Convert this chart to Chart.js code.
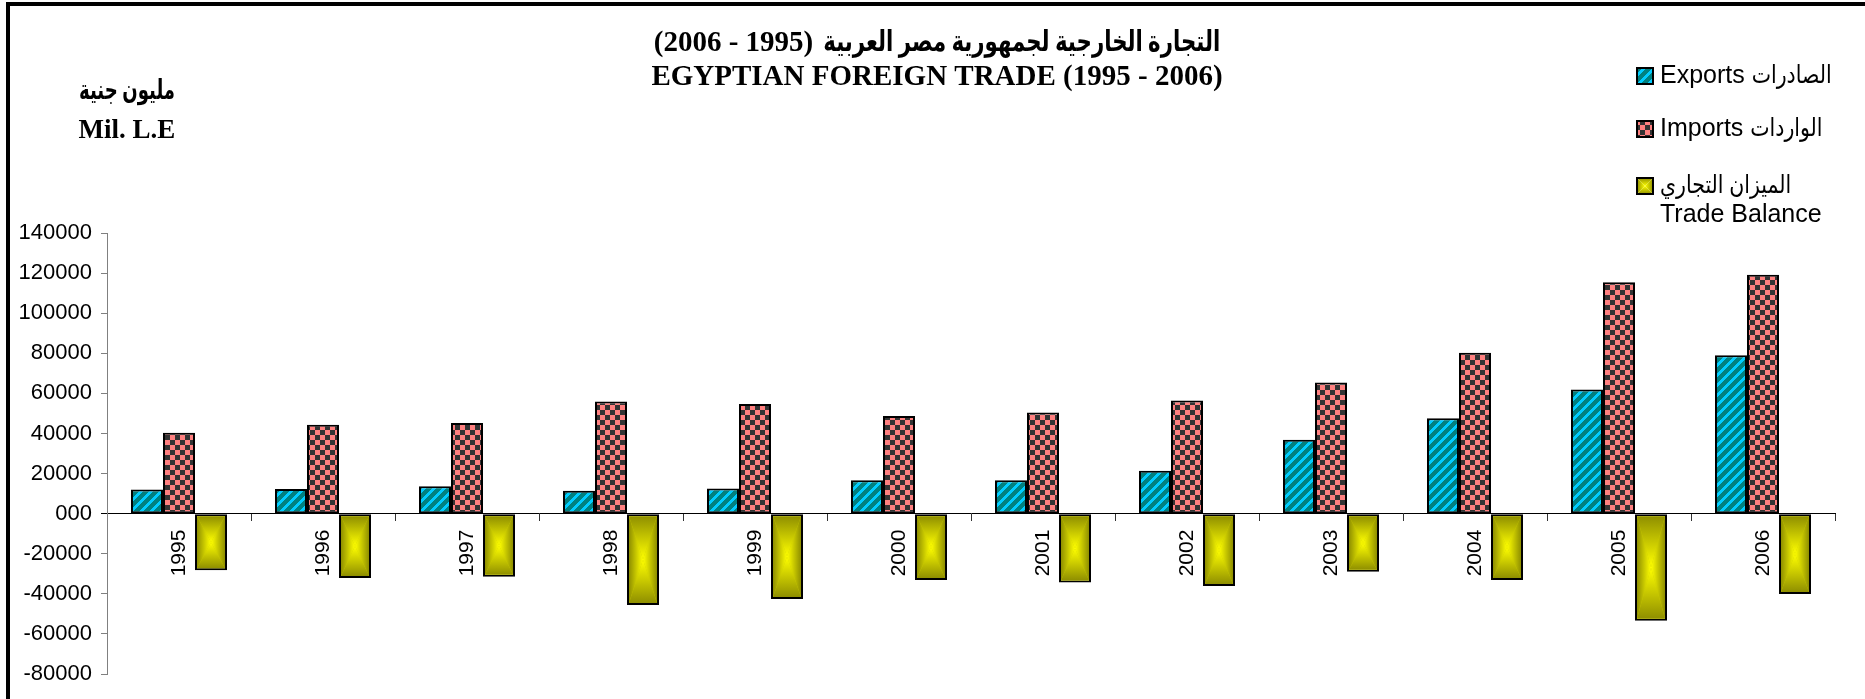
<!DOCTYPE html>
<html>
<head>
<meta charset="utf-8">
<title>Egyptian Foreign Trade</title>
<script src="https://cdn.jsdelivr.net/npm/chart.js@4.4.1/dist/chart.umd.min.js"></script>
<style>
    html, body { margin: 0; padding: 0; background: #fff; }
</style>
</head>
<body>
<canvas id="chart" width="1865" height="699"></canvas>
<script>
// values (million L.E)
var years = ['1995', '1996', '1997', '1998', '1999', '2000', '2001', '2002', '2003', '2004', '2005', '2006'];
var exportsData = [12000, 12300, 13700, 11400, 12600, 16700, 16700, 21400, 36900, 47600, 61900, 79000];
var importsData = [40300, 44400, 45200, 55900, 54700, 48700, 50500, 56500, 65400, 80200, 115400, 119200];
var balanceData = [-28300, -32100, -31500, -45600, -42600, -33100, -34300, -36100, -29000, -33100, -53400, -40100];

var yMin = -80000;
var yMax = 140000;
var yStep = 20000;

var titleAr = 'التجارة الخارجية لجمهورية مصر العربية';
var titleYears = '(1995 - 2006)';
var titleEn = 'EGYPTIAN FOREIGN TRADE (1995 - 2006)';
var unitLines = ['مليون جنية', 'Mil. L.E'];
var legendEn = ['Exports', 'Imports', ''];
var legendAr = ['الصادرات', 'الواردات', 'الميزان التجاري'];
var legendExtra = 'Trade Balance';

var canvas = document.getElementById('chart');
var ctx = canvas.getContext('2d');

function makeStripes() {
    var c = document.createElement('canvas');
    c.width = 10;
    c.height = 10;
    var g = c.getContext('2d');
    g.fillStyle = '#008080';
    g.fillRect(0, 0, 10, 10);
    g.fillStyle = '#00ccff';
    for (var py = 0; py < 10; py++) {
        for (var px = 0; px < 10; px++) {
            if ((px + py) % 10 < 4) {
                g.fillRect(px, py, 1, 1);
            }
        }
    }
    return ctx.createPattern(c, 'repeat');
}

function makeChecker() {
    var c = document.createElement('canvas');
    c.width = 10;
    c.height = 10;
    var g = c.getContext('2d');
    g.fillStyle = '#ff8080';
    g.fillRect(0, 0, 10, 10);
    g.fillStyle = '#333333';
    g.fillRect(0, 0, 5, 5);
    g.fillRect(5, 5, 5, 5);
    return ctx.createPattern(c, 'repeat');
}

function triangle(c, pts, x0, y0, x1, y1) {
    var grad = c.createLinearGradient(x0, y0, x1, y1);
    grad.addColorStop(0, '#8f8f00');
    grad.addColorStop(1, '#ffff00');
    c.fillStyle = grad;
    c.beginPath();
    c.moveTo(pts[0][0], pts[0][1]);
    c.lineTo(pts[1][0], pts[1][1]);
    c.lineTo(pts[2][0], pts[2][1]);
    c.closePath();
    c.fill();
}

// "from centre" rectangle gradient, like the Excel fill of the balance bars
function centerGradient(c, left, top, right, bottom) {
    var cx = (left + right) / 2;
    var cy = (top + bottom) / 2;
    c.save();
    c.beginPath();
    c.rect(left, top, right - left, bottom - top);
    c.clip();
    triangle(c, [[left, top], [right, top], [cx, cy]], cx, top, cx, cy);
    triangle(c, [[left, bottom], [right, bottom], [cx, cy]], cx, bottom, cx, cy);
    triangle(c, [[left, top], [left, bottom], [cx, cy]], left, cy, cx, cy);
    triangle(c, [[right, top], [right, bottom], [cx, cy]], right, cy, cx, cy);
    c.restore();
}

var stripes = makeStripes();
var checker = makeChecker();

var balanceFill = {
    id: 'balanceFill',
    afterDatasetDraw: function(chart, args) {
        if (args.index !== 2) {
            return;
        }
        var c = chart.ctx;
        args.meta.data.forEach(function(bar) {
            var p = bar.getProps(['x', 'y', 'base', 'width'], true);
            var bw = 2;
            var top = Math.min(p.y, p.base) + bw;
            var bottom = Math.max(p.y, p.base) - bw;
            centerGradient(c, p.x - p.width / 2 + bw, top, p.x + p.width / 2 - bw, bottom);
        });
    }
};

var decor = {
    id: 'decor',
    afterDraw: function(chart) {
        var c = chart.ctx;
        c.save();

        // frame
        c.fillStyle = '#000';
        c.fillRect(6, 2, 1859, 4);
        c.fillRect(6, 2, 4, 697);

        // title, arabic line (years part is drawn right-to-left like the original)
        c.textBaseline = 'middle';
        c.font = 'bold 29px "Liberation Serif", "DejaVu Sans", serif';
        var arW = 397;
        var gap = 10;
        c.direction = 'rtl';
        var yrW = c.measureText(titleYears).width;
        var left = 937 - (yrW + gap + arW) / 2;
        c.textAlign = 'left';
        c.fillText(titleYears, left, 44);
        c.fillText(titleAr, left + yrW + gap, 44, arW);
        c.direction = 'ltr';
        c.textAlign = 'center';
        c.fillText(titleEn, 937, 78);

        // unit
        c.font = 'bold 27px "Liberation Serif", "DejaVu Sans", serif';
        c.fillText(unitLines[0], 127, 92, 96);
        c.fillText(unitLines[1], 127, 131);

        // legend
        var fills = [stripes, checker, null];
        var rows = [76, 129, 186];
        c.textAlign = 'left';
        c.font = '25px "Liberation Sans", "DejaVu Sans", sans-serif';
        for (var i = 0; i < 3; i++) {
            var bx = 1637;
            var by = rows[i] - 8;
            if (fills[i]) {
                c.fillStyle = fills[i];
                c.fillRect(bx, by, 16, 16);
            } else {
                centerGradient(c, bx, by, bx + 16, by + 16);
            }
            c.strokeStyle = '#000';
            c.lineWidth = 2;
            c.strokeRect(bx, by, 16, 16);
            c.fillStyle = '#000';
            var tx = 1660;
            if (legendEn[i]) {
                c.fillText(legendEn[i], tx, rows[i]);
                tx += c.measureText(legendEn[i] + ' ').width;
            }
            var arNat = c.measureText(legendAr[i]).width;
            c.fillText(legendAr[i], tx, rows[i], arNat * 0.82);
        }
        c.fillText(legendExtra, 1660, 215);

        c.restore();
    }
};

Chart.defaults.font.family = '"Liberation Sans", Arial, sans-serif';
Chart.defaults.color = '#000';

new Chart(ctx, {
    type: 'bar',
    data: {
        labels: years,
        datasets: [
            {
                label: legendEn[0],
                data: exportsData,
                backgroundColor: stripes,
                borderColor: '#000',
                borderWidth: 2,
                borderSkipped: false
            },
            {
                label: legendEn[1],
                data: importsData,
                backgroundColor: checker,
                borderColor: '#000',
                borderWidth: 2,
                borderSkipped: false
            },
            {
                label: legendExtra,
                data: balanceData,
                backgroundColor: '#c8c800',
                borderColor: '#000',
                borderWidth: 2,
                borderSkipped: false
            }
        ]
    },
    options: {
        responsive: false,
        animation: false,
        devicePixelRatio: 1,
        categoryPercentage: 0.667,
        barPercentage: 1,
        layout: {
            padding: { top: 233, right: 30, bottom: 25, left: 0 }
        },
        plugins: {
            legend: { display: false },
            title: { display: false },
            tooltip: { enabled: false }
        },
        scales: {
            x: {
                position: { y: 0 },
                grid: {
                    offset: true,
                    drawOnChartArea: false,
                    drawTicks: true,
                    tickLength: 7,
                    tickColor: '#333'
                },
                border: { color: '#000', width: 1 },
                ticks: {
                    autoSkip: false,
                    minRotation: 90,
                    maxRotation: 90,
                    padding: 9,
                    font: { size: 21 }
                }
            },
            y: {
                min: yMin,
                max: yMax,
                afterFit: function(scale) {
                    scale.width = 107;
                },
                grid: {
                    drawOnChartArea: false,
                    drawTicks: true,
                    tickLength: 6,
                    tickColor: function(c) {
                        return c.tick && c.tick.value === 0 ? '#000' : '#808080';
                    }
                },
                border: { color: '#808080', width: 1 },
                ticks: {
                    stepSize: yStep,
                    padding: 9,
                    font: { size: 22 },
                    callback: function(value) {
                        return value === 0 ? '000' : value;
                    }
                }
            }
        }
    },
    plugins: [balanceFill, decor]
});
</script>
</body>
</html>
